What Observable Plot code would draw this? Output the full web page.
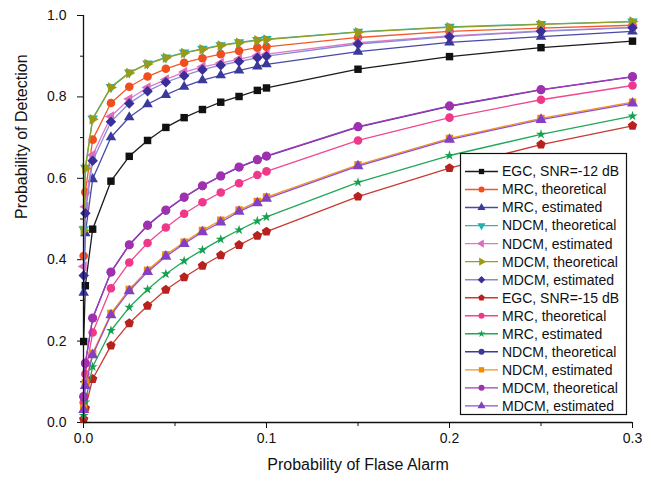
<!DOCTYPE html>
<html>
<head>
<meta charset="utf-8">
<script src="https://cdn.jsdelivr.net/npm/d3@7"></script>
<script src="https://cdn.jsdelivr.net/npm/@observablehq/plot@0.6"></script>
<style>
  html, body { margin: 0; padding: 0; background: #fff; }
  #chart { width: 652px; height: 480px; }
</style>
</head>
<body>
<div id="chart"></div>
<script>
// ---- Data ----
const pfa = [0.0001, 0.001, 0.005, 0.015, 0.025, 0.035, 0.045, 0.055, 0.065, 0.075, 0.085, 0.095, 0.1, 0.15, 0.2, 0.25, 0.3];

const egc12     = [0.199, 0.336, 0.475, 0.593, 0.654, 0.693, 0.725, 0.749, 0.769, 0.787, 0.801, 0.816, 0.822, 0.868, 0.899, 0.921, 0.937];
const mrcTh12   = [0.409, 0.566, 0.695, 0.785, 0.825, 0.850, 0.869, 0.884, 0.895, 0.905, 0.913, 0.921, 0.923, 0.946, 0.961, 0.969, 0.976];
const mrcEst12  = [0.319, 0.465, 0.598, 0.701, 0.750, 0.782, 0.805, 0.825, 0.841, 0.853, 0.865, 0.875, 0.880, 0.911, 0.934, 0.948, 0.961];
const ndcmTh12  = [0.475, 0.626, 0.747, 0.824, 0.860, 0.882, 0.897, 0.909, 0.918, 0.927, 0.934, 0.940, 0.942, 0.960, 0.972, 0.979, 0.985];
const ndcmEst12 = [0.383, 0.530, 0.657, 0.752, 0.795, 0.823, 0.843, 0.861, 0.874, 0.883, 0.893, 0.902, 0.905, 0.933, 0.950, 0.962, 0.971];
const mdcmTh12  = [0.472, 0.624, 0.745, 0.823, 0.859, 0.881, 0.896, 0.908, 0.917, 0.926, 0.933, 0.939, 0.941, 0.959, 0.971, 0.978, 0.985];
const mdcmEst12 = [0.361, 0.514, 0.643, 0.739, 0.784, 0.814, 0.836, 0.852, 0.867, 0.878, 0.887, 0.896, 0.900, 0.930, 0.948, 0.961, 0.970];

const egc15     = [0.008, 0.035, 0.107, 0.189, 0.244, 0.287, 0.326, 0.357, 0.385, 0.411, 0.436, 0.459, 0.469, 0.555, 0.625, 0.683, 0.729];
const mrcTh15   = [0.049, 0.119, 0.221, 0.330, 0.393, 0.441, 0.479, 0.513, 0.541, 0.565, 0.588, 0.608, 0.617, 0.693, 0.749, 0.793, 0.828];
const mrcEst15  = [0.017, 0.050, 0.137, 0.226, 0.283, 0.327, 0.365, 0.397, 0.424, 0.450, 0.473, 0.495, 0.505, 0.590, 0.656, 0.708, 0.753];
const ndcmTh15  = [0.063, 0.145, 0.256, 0.369, 0.436, 0.484, 0.521, 0.553, 0.581, 0.605, 0.627, 0.645, 0.654, 0.726, 0.777, 0.817, 0.849];
const ndcmEst15 = [0.035, 0.097, 0.170, 0.268, 0.327, 0.374, 0.412, 0.443, 0.472, 0.497, 0.522, 0.543, 0.554, 0.633, 0.698, 0.747, 0.787];
const mdcmTh15  = [0.064, 0.146, 0.257, 0.370, 0.437, 0.485, 0.522, 0.554, 0.582, 0.606, 0.628, 0.646, 0.655, 0.727, 0.778, 0.818, 0.850];
const mdcmEst15 = [0.031, 0.090, 0.166, 0.264, 0.323, 0.370, 0.408, 0.439, 0.468, 0.492, 0.518, 0.539, 0.550, 0.630, 0.695, 0.744, 0.784];

const seriesNames = [
  "EGC, SNR=-12 dB", "MRC, theoretical", "MRC, estimated", "NDCM, theoretical", "NDCM, estimated", "MDCM, theoretical", "MDCM, estimated",
  "EGC, SNR=-15 dB", "MRC, theoretical", "MRC, estimated", "NDCM, theoretical", "NDCM, estimated", "MDCM, theoretical", "MDCM, estimated"
];
const seriesValues = [egc12, mrcTh12, mrcEst12, ndcmTh12, ndcmEst12, mdcmTh12, mdcmEst12,
                      egc15, mrcTh15, mrcEst15, ndcmTh15, ndcmEst15, mdcmTh15, mdcmEst15];

const xMajorTicks = [0, 0.1, 0.2, 0.3];
const xMinorTicks = [0.05, 0.15, 0.25];
const yMajorTicks = [0, 0.2, 0.4, 0.6, 0.8, 1.0];
const yMinorTicks = [0.1, 0.3, 0.5, 0.7, 0.9];

// ---- Styles ----
function polygon(n, angleDeg) {
  return {
    draw(ctx, size) {
      const R = Math.sqrt(size / (n / 2 * Math.sin(2 * Math.PI / n)));
      for (let k = 0; k < n; k++) {
        const a = (angleDeg + k * 360 / n) * Math.PI / 180;
        const px = R * Math.cos(a), py = R * Math.sin(a);
        if (k === 0) ctx.moveTo(px, py); else ctx.lineTo(px, py);
      }
      ctx.closePath();
    }
  };
}
const triUp = polygon(3, -90), triDown = polygon(3, 90), triLeft = polygon(3, 180), triRight = polygon(3, 0);
const pentagon = polygon(5, -90);
const diamond = polygon(4, 0);

const styles = [
  {line: "#1a1a1a", fill: "#111111", symbol: d3.symbolSquare, r: 4.2},
  {line: "#f05a28", fill: "#f04e1c", symbol: d3.symbolCircle, r: 4.3},
  {line: "#4848a8", fill: "#3a3a9a", symbol: triUp, r: 3.9},
  {line: "#2ab8b8", fill: "#22b0b0", symbol: triDown, r: 3.9},
  {line: "#e07ac8", fill: "#dd6cc0", symbol: triLeft, r: 3.9},
  {line: "#96a020", fill: "#9a9a14", symbol: triRight, r: 3.9},
  {line: "#8a8ad8", fill: "#3a2e98", symbol: diamond, r: 4.2},
  {line: "#c83a32", fill: "#b8221e", symbol: pentagon, r: 4.3},
  {line: "#f04890", fill: "#f0388a", symbol: d3.symbolCircle, r: 4.3},
  {line: "#20a858", fill: "#14a050", symbol: d3.symbolStar, r: 3.1},
  {line: "#3a3aa0", fill: "#3a3a9a", symbol: d3.symbolCircle, r: 4.3},
  {line: "#f29420", fill: "#f28c00", symbol: d3.symbolSquare, r: 4.2},
  {line: "#a838b8", fill: "#a030b0", symbol: d3.symbolCircle, r: 4.5},
  {line: "#9050d0", fill: "#8440c4", symbol: triUp, r: 4.1}
];

const marks = [];
seriesValues.forEach((vals, i) => {
  const rows = pfa.map((x, j) => ({x, y: vals[j]}));
  const s = styles[i];
  marks.push(Plot.line(rows, {x: "x", y: "y", stroke: s.line, strokeWidth: 1.3}));
  marks.push(Plot.dot(rows, {x: "x", y: "y", fill: s.fill, symbol: s.symbol, r: s.r, stroke: "none"}));
});

const font = "'Liberation Sans', Arial, Helvetica, sans-serif";

const plot = Plot.plot({
  width: 652,
  height: 480,
  marginLeft: 83,
  marginRight: 20,
  marginTop: 15,
  marginBottom: 58,
  style: {fontFamily: font, fontSize: "14px", color: "#111", background: "#fff"},
  x: {domain: [0, 0.3]},
  y: {domain: [0, 1]},
  marks: [
    Plot.axisX(xMajorTicks, {tickSize: 6, tickPadding: 5, tickFormat: d3.format(".1f"), fontSize: 14, label: null, stroke: "#111"}),
    Plot.axisX(xMinorTicks, {tickSize: 4, tickFormat: () => "", label: null, stroke: "#111"}),
    Plot.axisY(yMajorTicks, {tickSize: 6, tickPadding: 11, tickFormat: d3.format(".1f"), fontSize: 14, label: null, stroke: "#111"}),
    Plot.axisY(yMinorTicks, {tickSize: 3, tickFormat: () => "", label: null, stroke: "#111"}),
    ...marks,
    Plot.ruleX([0], {stroke: "#111", strokeWidth: 1.3}),
    Plot.ruleY([0], {stroke: "#111", strokeWidth: 1.3}),
    Plot.text(["Probability of Flase Alarm"], {frameAnchor: "bottom", dy: 47, fontSize: 16, fill: "#111"}),
    Plot.text(["Probability of Detection"], {frameAnchor: "left", dx: -62, rotate: -90, fontSize: 16, fill: "#111"})
  ]
});

// ---- Legend (inside the plot area) ----
const svg = d3.select(plot);
const lg = svg.append("g").attr("font-family", font).attr("font-size", 14).attr("text-anchor", "start");
const boxX = 460.5, boxY = 153.5, boxW = 166, boxH = 261;
lg.append("rect").attr("x", boxX).attr("y", boxY).attr("width", boxW).attr("height", boxH)
  .attr("fill", "#fff").attr("stroke", "#111").attr("stroke-width", 1.2);
seriesNames.forEach((name, i) => {
  const s = styles[i];
  const cy = 171.5 + i * 18.03;
  lg.append("line").attr("x1", 465).attr("x2", 498).attr("y1", cy).attr("y2", cy)
    .attr("stroke", s.line).attr("stroke-width", 1.4);
  const rr = s.symbol === d3.symbolStar ? 2.3 : 3;
  lg.append("path").attr("transform", `translate(481.5,${cy})`)
    .attr("d", d3.symbol(s.symbol, Math.PI * rr * rr)())
    .attr("fill", s.fill);
  lg.append("text").attr("x", 502).attr("y", cy).attr("dy", "0.35em").attr("text-anchor", "start")
    .attr("fill", "#111").text(name);
});

document.getElementById("chart").appendChild(plot);
</script>
</body>
</html>
